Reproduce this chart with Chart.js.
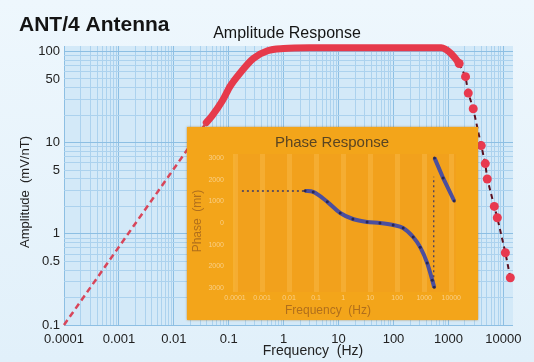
<!DOCTYPE html>
<html>
<head>
<meta charset="utf-8">
<script src="https://cdn.jsdelivr.net/npm/chart.js@4.4.1/dist/chart.umd.min.js"></script>
<style>
html, body { margin: 0; padding: 0; background: #e4f2fb; }
#wrap { position: relative; width: 534px; height: 362px; overflow: hidden; }
#amp { position: absolute; left: 0; top: 0; }
#phase { position: absolute; left: 187px; top: 127px; box-shadow: 0 0 2px rgba(170,110,20,0.7); }
</style>
</head>
<body>
<div id="wrap">
  <canvas id="amp" width="534" height="362"></canvas>
  <canvas id="phase" width="291" height="193"></canvas>
</div>
<script>
// amplitude response (mV/nT)
const ampAsymFreq = [0.0001, 0.039];
const ampAsymVal = [0.1, 16.6];
const ampFreq = [0.039, 0.05, 0.077, 0.107, 0.164, 0.28, 0.51, 1, 3, 10, 100, 400, 740, 1120, 1570];
const ampVal = [16.6, 19.8, 29, 42, 59, 84, 102, 108, 110, 110, 110, 110, 110, 95, 74];
const dropFreq = [1570, 2050, 2300, 2830, 3960, 4690, 5100, 6850, 7770, 10900, 13400];
const dropVal = [74, 53, 35, 23.6, 9.3, 5.9, 4.0, 2.0, 1.5, 0.62, 0.33];

// phase response (mr)
const phaseFlatFreq = [0.00018, 0.036];
const phaseFlatVal = [1480, 1480];
const phaseFreq = [0.039, 0.078, 0.26, 0.78, 2.3, 7.7, 23, 71, 166, 390, 710, 1290, 1990, 2350];
const phaseVal = [1490, 1440, 980, 465, 186, 47, 0, -93, -230, -650, -1120, -1860, -2650, -2980];
const wrapFreq = [2250, 2250];
const wrapVal = [-2980, 2150];
const branchFreq = [2400, 5000, 12900];
const branchVal = [3020, 2090, 1020];

// tick labels
const freqTicks = [0.0001, 0.001, 0.01, 0.1, 1, 10, 100, 1000, 10000];
const freqTickText = ['0.0001', '0.001', '0.01', '0.1', '1', '10', '100', '1000', '10000'];
const ampTicks = [0.1, 0.5, 1, 5, 10, 50, 100];
const ampTickText = ['0.1', '0.5', '1', '5', '10', '50', '100'];
const phaseTicks = [3000, 2000, 1000, 0, -1000, -2000, -3000];
const phaseTickText = ['3000', '2000', '1000', '0', '1000', '2000', '3000'];

const FONT = '"Liberation Sans", Arial, sans-serif';

function pts(xs, ys) {
  return xs.map((x, i) => ({x: x, y: ys[i]}));
}
// log grid positions 1..9 x 10^e
function logGrid(e0, e1) {
  const out = [];
  for (let e = e0; e <= e1; e++) {
    for (let k = 1; k <= 9; k++) out.push(Number((k * Math.pow(10, e)).toPrecision(6)));
  }
  return out;
}
function findIdx(list, v) {
  return list.findIndex(t => Math.abs(Math.log10(t) - Math.log10(v)) < 1e-6);
}

const ampBg = {
  id: 'ampBg',
  beforeDraw(chart) {
    const {ctx, chartArea: a} = chart;
    ctx.save();
    const g = ctx.createLinearGradient(0, 0, 0, chart.height);
    g.addColorStop(0, '#eef7fd');
    g.addColorStop(1, '#e1f0fa');
    ctx.fillStyle = g;
    ctx.fillRect(0, 0, chart.width, chart.height);
    ctx.fillStyle = '#d3e9f8';
    ctx.fillRect(a.left, a.top, a.right - a.left, a.bottom - a.top);
    ctx.restore();
  },
  afterDraw(chart) {
    const ctx = chart.ctx;
    ctx.save();
    ctx.fillStyle = '#141414';
    ctx.textBaseline = 'alphabetic';
    ctx.font = 'bold 21px ' + FONT;
    ctx.textAlign = 'left';
    ctx.fillText('ANT/4 Antenna', 19, 31);
    ctx.font = '16px ' + FONT;
    ctx.textAlign = 'center';
    ctx.fillText('Amplitude Response', 287, 38);
    ctx.font = '14px ' + FONT;
    ctx.fillStyle = '#222';
    ctx.fillText('Frequency  (Hz)', 313, 355);
    ctx.translate(25, 192);
    ctx.rotate(-Math.PI / 2);
    ctx.textBaseline = 'middle';
    ctx.font = '13px ' + FONT;
    ctx.fillText('Amplitude  (mV/nT)', 0, 0);
    ctx.restore();
  }
};

new Chart(document.getElementById('amp'), {
  type: 'line',
  data: {
    datasets: [
      {
        data: pts(ampAsymFreq, ampAsymVal),
        borderColor: '#d8465a',
        borderWidth: 2.5,
        borderDash: [6, 4],
        pointRadius: 0
      },
      {
        data: pts(ampFreq, ampVal),
        borderColor: '#e63a4b',
        borderWidth: 7,
        borderCapStyle: 'round',
        cubicInterpolationMode: 'monotone',
        pointRadius: 0
      },
      {
        data: pts(dropFreq, dropVal),
        borderColor: '#5a1020',
        borderWidth: 2,
        borderDash: [5, 4],
        pointRadius: 4.5,
        pointBackgroundColor: '#e8394f',
        pointBorderColor: '#e8394f',
        pointBorderWidth: 0
      }
    ]
  },
  options: {
    responsive: false,
    devicePixelRatio: 1,
    animation: false,
    clip: false,
    layout: {padding: {top: 46, right: 21, bottom: 0, left: 0}},
    plugins: {legend: {display: false}, tooltip: {enabled: false}},
    scales: {
      x: {
        type: 'logarithmic',
        min: 0.0001,
        max: 15000,
        border: {display: false},
        afterBuildTicks: s => { s.ticks = logGrid(-4, 4).filter(v => v <= 15000).map(v => ({value: v})); },
        afterFit: s => { s.height = 37; },
        grid: {
          drawTicks: false,
          color: c => (c.tick && findIdx(freqTicks, c.tick.value) >= 0) ? '#8dbfe3' : '#acd2ee',
          lineWidth: 1
        },
        ticks: {
          autoSkip: false,
          maxRotation: 0,
          padding: 7,
          color: '#222',
          font: {family: FONT, size: 13},
          callback: v => { const i = findIdx(freqTicks, v); return i >= 0 ? freqTickText[i] : ''; }
        }
      },
      y: {
        type: 'logarithmic',
        min: 0.1,
        max: 115,
        border: {display: false},
        afterBuildTicks: s => { s.ticks = logGrid(-1, 2).filter(v => v <= 100).map(v => ({value: v})); },
        afterFit: s => { s.width = 64; },
        grid: {
          drawTicks: false,
          color: c => (c.tick && [0.1, 1, 10, 100].some(t => Math.abs(t - c.tick.value) < 1e-9)) ? '#8dbfe3' : '#acd2ee',
          lineWidth: 1
        },
        ticks: {
          autoSkip: false,
          padding: 4,
          color: '#222',
          font: {family: FONT, size: 13},
          callback: v => { const i = findIdx(ampTicks, v); return i >= 0 ? ampTickText[i] : ''; }
        }
      }
    }
  },
  plugins: [ampBg]
});

const phaseBg = {
  id: 'phaseBg',
  beforeDraw(chart) {
    const {ctx, chartArea: a} = chart;
    ctx.save();
    ctx.fillStyle = '#f3a51a';
    ctx.fillRect(0, 0, chart.width, chart.height);
    ctx.fillStyle = '#f2a11c';
    ctx.fillRect(a.left, a.top, a.right - a.left, a.bottom - a.top);
    ctx.restore();
  },
  afterDraw(chart) {
    const ctx = chart.ctx;
    ctx.save();
    ctx.textAlign = 'center';
    ctx.textBaseline = 'middle';
    ctx.fillStyle = '#5a4522';
    ctx.font = '15px ' + FONT;
    ctx.fillText('Phase Response', 145, 16);
    ctx.fillStyle = '#b06f1c';
    ctx.font = '12px ' + FONT;
    ctx.fillText('Frequency  (Hz)', 141, 184);
    ctx.translate(11, 94);
    ctx.rotate(-Math.PI / 2);
    ctx.fillText('Phase  (mr)', 0, 0);
    ctx.restore();
  }
};

new Chart(document.getElementById('phase'), {
  type: 'line',
  data: {
    datasets: [
      {
        data: pts(phaseFlatFreq, phaseFlatVal),
        borderColor: '#3b3766',
        borderWidth: 1.5,
        borderDash: [2, 3],
        pointRadius: 0
      },
      {
        data: pts(phaseFreq, phaseVal),
        borderColor: '#4c4f9e',
        borderWidth: 4,
        cubicInterpolationMode: 'monotone',
        pointRadius: 1.5,
        pointBackgroundColor: '#2a2852',
        pointBorderWidth: 0
      },
      {
        data: pts(wrapFreq, wrapVal),
        borderColor: '#3b3766',
        borderWidth: 1.2,
        borderDash: [2, 3],
        pointRadius: 0
      },
      {
        data: pts(branchFreq, branchVal),
        borderColor: '#4c4f9e',
        borderWidth: 4,
        pointRadius: 1.5,
        pointBackgroundColor: '#2a2852',
        pointBorderWidth: 0
      }
    ]
  },
  options: {
    responsive: false,
    devicePixelRatio: 1,
    animation: false,
    clip: false,
    layout: {padding: {top: 27, right: 22, bottom: 0, left: 0}},
    plugins: {legend: {display: false}, tooltip: {enabled: false}},
    scales: {
      x: {
        type: 'logarithmic',
        min: 0.0001,
        max: 15000,
        border: {display: false},
        afterBuildTicks: s => { s.ticks = freqTicks.map(v => ({value: v})); },
        afterFit: s => { s.height = 28; },
        grid: {drawTicks: false, color: 'rgba(250,192,85,0.4)', lineWidth: 5},
        ticks: {
          autoSkip: false,
          maxRotation: 0,
          padding: 2,
          color: '#f9cf86',
          font: {family: FONT, size: 7},
          callback: v => { const i = findIdx(freqTicks, v); return i >= 0 ? freqTickText[i] : ''; }
        }
      },
      y: {
        min: -3200,
        max: 3200,
        border: {display: false},
        afterBuildTicks: s => { s.ticks = phaseTicks.map(v => ({value: v})); },
        afterFit: s => { s.width = 48; },
        grid: {display: false},
        ticks: {
          autoSkip: false,
          padding: 3,
          color: '#f9cf86',
          font: {family: FONT, size: 7},
          callback: v => { const i = phaseTicks.indexOf(v); return i >= 0 ? phaseTickText[i] : ''; }
        }
      }
    }
  },
  plugins: [phaseBg]
});
</script>
</body>
</html>
